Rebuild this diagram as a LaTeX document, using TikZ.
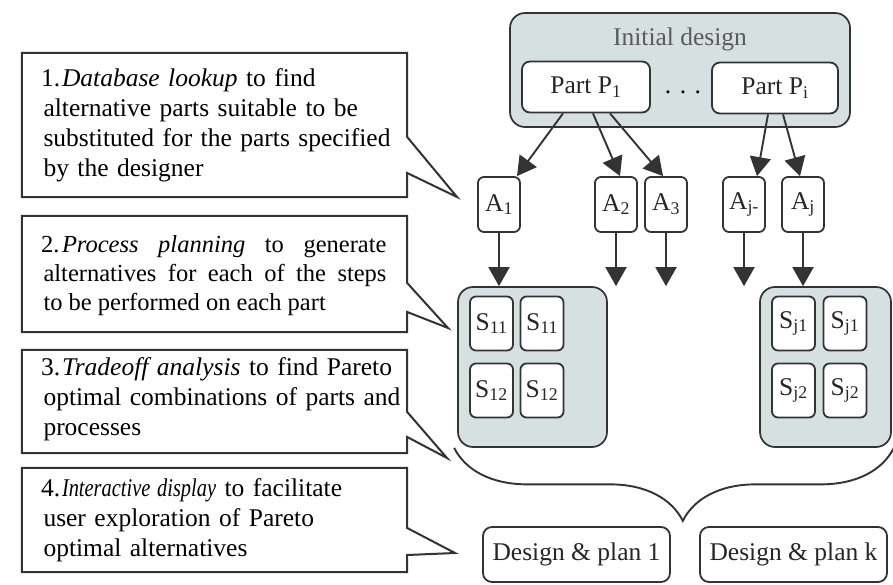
\documentclass[tikz,border=0pt]{standalone}
\usepackage{fontspec}
\usepackage{graphicx}
\newfontfamily\timesface{Liberation Serif}
\usetikzlibrary{positioning,arrows.meta,calc,decorations.pathreplacing}
\definecolor{grpfill}{HTML}{D6E0E0}
\definecolor{ink}{HTML}{333333}
\definecolor{lblgrey}{HTML}{5A5A5A}
\newcommand{\numitem}[1]{\hangindent=18.5pt\hangafter=1\makebox[18.5pt][l]{\hspace{-2.5pt}#1}}

\begin{document}
\begin{tikzpicture}[
  x=1pt, y=-1pt,
  font=\timesface\fontsize{25.5}{30}\selectfont,
  frame/.style={inner sep=0pt, minimum width=385pt},
  note/.style={text width=362pt, inner sep=0pt, align=left, anchor=west},
  callout/.style={draw=ink, line width=2pt, line join=miter},
  group/.style={draw=ink, line width=1.7pt, fill=grpfill, rounded corners=15pt, inner sep=0pt},
  part/.style={draw=ink, line width=1.8pt, fill=white, rounded corners=8pt, minimum height=51pt, text=black!85},
  alt/.style={draw=ink, line width=1.8pt, fill=white, rounded corners=6pt, inner sep=0pt,
              minimum width=42pt, minimum height=55pt, text=black!85},
  sbox/.style={alt, minimum width=43pt, minimum height=54pt},
  plan/.style={draw=ink, line width=1.8pt, rounded corners=9pt, minimum width=187pt,
               minimum height=55pt, text=black!85},
  arr/.style={-{Triangle[length=19pt,width=21pt]}, line width=1.9pt, draw=ink, fill=ink}
]
\useasboundingbox (0,0) rectangle (893,585);
% ----- callouts on the left -----
\node[frame, minimum height=144pt] (b1) at (214.5,125) {};
\node[frame, minimum height=116pt] (b2) at (214.5,274) {};
\node[frame, minimum height=103pt] (b3) at (214.5,401.5) {};
\node[frame, minimum height=104pt] (b4) at (214.5,520) {};
\node[note] (t1) at ([xshift=21.5pt]b1.west)
  {\numitem{1.}\textit{Database lookup} to find\newline alternative parts suitable to be\newline
   substituted for the parts specified\newline by the designer};
\node[note, text width=343pt, align=justify, font=\timesface\fontsize{24.5}{29}\selectfont] (t2)
  at ([xshift=21.5pt,yshift=-2pt]b2.west)
  {\numitem{2.}\textit{Process planning} to generate\linebreak alternatives for each of the steps\linebreak
   to be performed on each part};
\node[note] (t3) at ([xshift=21.5pt,yshift=2pt]b3.west)
  {\numitem{3.}\textit{Tradeoff analysis} to find Pareto\newline optimal combinations of parts and\newline processes};
\node[note] (t4) at ([xshift=21.5pt]b4.west)
  {\numitem{4.}\scalebox{0.8}[1]{\textit{Interactive display}} to facilitate\newline
   user exploration of Pareto\newline optimal alternatives};
\draw[callout] (b1.north west) -| (b1.east |- 0,137) -- (457,197) -- (b1.east |- 0,173) |- (b1.south west) -- cycle;
\draw[callout] (b2.north west) -| (b2.east |- 0,283) -- (448,328) -- (b2.east |- 0,312) |- (b2.south west) -- cycle;
\draw[callout] (b3.north west) -| (b3.east |- 0,412) -- (447,458) -- (b3.east |- 0,437) |- (b3.south west) -- cycle;
\draw[callout] (b4.north west) -| (b4.east |- 0,528) -- (455,553) -- (b4.east |- 0,555) |- (b4.south west) -- cycle;
% ----- initial design -----
\node[group, minimum width=340pt, minimum height=114pt] (init) at (680,70) {};
\node[text=lblgrey] (initlbl) at (680,39) {Initial design};
\node[part, minimum width=128pt] (p1) at (586,87) {Part P\textsubscript{1}};
\node[part, minimum width=126pt] (pi) at (775,88) {Part P\textsubscript{i}};
\node (dots) at (683,92) {. . .};
% ----- alternative parts -----
\foreach \n/\x/\s in {a1/499/1, a2/616/2, a3/666/3, ajm/744/{j-}, aj/803/j}
  \node[alt] (\n) at (\x,204.5) {A\textsubscript{\s}};
\draw[arr] ([xshift=-23pt]p1.south) -- ([xshift=18pt]a1.north);
\draw[arr] ([xshift=7pt]p1.south) -- ([xshift=4pt]a2.north);
\draw[arr] ([xshift=24pt]p1.south) -- ([xshift=-3pt]a3.north);
\draw[arr] ([xshift=-7pt]pi.south) -- ([xshift=13pt]ajm.north);
\draw[arr] ([xshift=8pt]pi.south) -- ([xshift=-3pt]aj.north);
% ----- process steps -----
\node[group, minimum width=149pt, minimum height=160pt] (sgl) at (532.5,367) {};
\node[group, minimum width=131pt, minimum height=160pt] (sgr) at (825.5,367) {};
\node[sbox] (s11a) at (491.5,323.5) {S\textsubscript{11}};
\node[sbox] (s11b) at (542,323.5)   {S\textsubscript{11}};
\node[sbox] (s12a) at (491.5,390.5) {S\textsubscript{12}};
\node[sbox] (s12b) at (542,390.5)   {S\textsubscript{12}};
\node[sbox] (sj1a) at (793.5,323.5) {S\textsubscript{j1}};
\node[sbox] (sj1b) at (845,323.5)   {S\textsubscript{j1}};
\node[sbox] (sj2a) at (793.5,390.5) {S\textsubscript{j2}};
\node[sbox] (sj2b) at (845,390.5)   {S\textsubscript{j2}};
\foreach \n in {a1, a2, a3, ajm, aj}{\draw[arr] (\n.south) -- (\n.south |- sgl.north);}
% ----- combinations -----
\draw[ink, line width=1.9pt, decorate, decoration={brace, mirror, amplitude=73pt, aspect=0.52}]
  ([xshift=-3pt]sgl.south west) -- ([xshift=2pt]sgr.south east);
\node[plan] (d1) at (576.5,554.5) {Design \& plan 1};
\node[plan] (dk) at (793.5,554.5) {Design \& plan k};
\end{tikzpicture}
\end{document}
